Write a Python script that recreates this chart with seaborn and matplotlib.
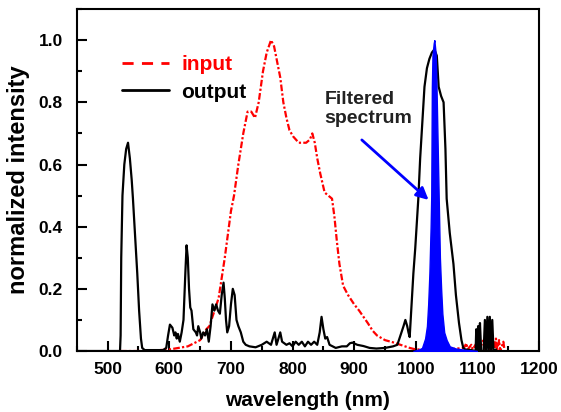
import matplotlib
matplotlib.use("Agg")
from matplotlib import pyplot as plt
from matplotlib.lines import Line2D
from matplotlib.ticker import MultipleLocator
import seaborn as sns
import pandas as pd

# input spectrum (red)
input_wl = [520, 560, 600, 630, 650, 660, 665, 670, 680, 690, 700, 705, 712, 720, 727, 733, 739,
            745, 752, 758, 765, 770, 775, 780, 785, 790, 795, 801, 810, 822, 828, 832, 836, 840,
            845, 852, 858, 864, 868, 872, 876, 882, 890, 900, 908, 915, 922, 930, 937, 950, 963,
            975, 990, 1000, 1050, 1078, 1082, 1084, 1090, 1092, 1100, 1102, 1110, 1112, 1118,
            1120, 1125, 1127, 1130, 1132, 1135, 1137, 1142, 1144]
input_val = [0.0, 0.0, 0.005, 0.015, 0.035, 0.07, 0.08, 0.11, 0.17, 0.30, 0.45, 0.50, 0.60, 0.70,
             0.77, 0.77, 0.75, 0.80, 0.90, 0.96, 1.00, 0.98, 0.93, 0.88, 0.80, 0.75, 0.71, 0.69,
             0.67, 0.67, 0.68, 0.70, 0.67, 0.62, 0.57, 0.51, 0.50, 0.49, 0.43, 0.35, 0.28, 0.21,
             0.18, 0.15, 0.13, 0.11, 0.09, 0.065, 0.05, 0.035, 0.028, 0.02, 0.01, 0.005, 0.005,
             0.01, 0.025, 0.005, 0.02, 0.005, 0.03, 0.0, 0.035, 0.0, 0.04, 0.0, 0.04, 0.0, 0.04,
             0.0, 0.035, 0.0, 0.03, 0.0]

# output spectrum (black)
output_wl = [450, 515, 520, 521, 522, 524, 527, 530, 533, 536, 539, 541, 545, 548, 551, 554, 556,
             560, 590, 595, 598, 601, 605, 608, 610, 612, 614, 617, 620, 623, 626, 628, 630, 632,
             634, 636, 639, 643, 645, 647, 650, 652, 655, 658, 661, 664, 667, 670, 673, 676, 679,
             682, 685, 688, 690, 692, 694, 697, 700, 703, 706, 709, 712, 716, 720, 724, 730, 740,
             750, 758, 765, 768, 771, 774, 777, 780, 783, 790, 795, 800, 805, 810, 815, 820, 825,
             830, 835, 840, 844, 847, 850, 853, 856, 860, 870, 880, 888, 893, 897, 905, 915, 925,
             936, 950, 963, 970, 975, 980, 983, 986, 988, 990, 993, 996, 999, 1004, 1007, 1010,
             1014, 1018, 1022, 1026, 1030, 1034, 1037, 1041, 1045, 1048, 1050, 1055, 1061, 1065,
             1070, 1074, 1077, 1080, 1090, 1097, 1098, 1100, 1101, 1103, 1104, 1106, 1110, 1112,
             1114, 1116, 1118, 1120, 1122, 1124, 1126, 1130]
output_val = [0.0, 0.0, 0.0, 0.05, 0.3, 0.5, 0.6, 0.65, 0.67, 0.62, 0.55, 0.49, 0.35, 0.25, 0.13,
              0.04, 0.01, 0.003, 0.003, 0.01, 0.05, 0.085, 0.075, 0.05, 0.06, 0.04, 0.055, 0.03,
              0.06, 0.1, 0.25, 0.34, 0.3, 0.2, 0.14, 0.13, 0.07, 0.06, 0.05, 0.08, 0.06, 0.04,
              0.06, 0.05, 0.07, 0.03, 0.08, 0.15, 0.13, 0.15, 0.13, 0.12, 0.18, 0.22, 0.17, 0.1,
              0.06, 0.08, 0.15, 0.2, 0.18, 0.1, 0.08, 0.06, 0.03, 0.02, 0.015, 0.012, 0.02, 0.03,
              0.02, 0.04, 0.06, 0.02, 0.04, 0.06, 0.03, 0.02, 0.025, 0.015, 0.03, 0.02, 0.03,
              0.015, 0.03, 0.02, 0.03, 0.02, 0.06, 0.11, 0.07, 0.04, 0.045, 0.02, 0.01, 0.015,
              0.015, 0.025, 0.027, 0.02, 0.016, 0.01, 0.008, 0.01, 0.015, 0.02, 0.05, 0.08, 0.1,
              0.08, 0.06, 0.045, 0.15, 0.25, 0.33, 0.49, 0.62, 0.72, 0.85, 0.91, 0.94, 0.96, 0.97,
              0.95, 0.85, 0.82, 0.80, 0.65, 0.49, 0.38, 0.28, 0.18, 0.09, 0.035, 0.01, 0.005,
              0.003, 0.0, 0.07, 0.0, 0.08, 0.0, 0.09, 0.0, 0.0, 0.1, 0.0, 0.11, 0.0, 0.11, 0.0,
              0.1, 0.0, 0.005]

# filtered spectrum (blue fill)
filtered_wl = [996, 1005, 1010, 1015, 1018, 1020, 1022, 1024, 1025, 1026, 1027, 1029, 1030, 1032,
               1033, 1035, 1037, 1039, 1041, 1043, 1046, 1050, 1055, 1065, 1080, 1099]
filtered_val = [0.0, 0.005, 0.01, 0.04, 0.08, 0.15, 0.25, 0.4, 0.5, 0.85, 0.95, 0.99, 1.0, 0.96,
                0.9, 0.7, 0.5, 0.3, 0.2, 0.12, 0.06, 0.035, 0.015, 0.008, 0.004, 0.0]

df_in = pd.DataFrame({"wl": input_wl, "val": input_val})
df_out = pd.DataFrame({"wl": output_wl, "val": output_val})

sns.set_style("ticks")
plt.rcParams['font.family'] = ['Liberation Sans', 'DejaVu Sans']
plt.rcParams['font.weight'] = 'bold'
plt.rcParams['axes.labelweight'] = 'bold'
for key in ['text.color', 'axes.labelcolor', 'xtick.color', 'ytick.color', 'axes.edgecolor']:
    plt.rcParams[key] = 'black'

fig = plt.figure(figsize=(5.61, 4.12), dpi=100)
ax = fig.add_axes([0.137, 0.148, 0.824, 0.830])

sns.lineplot(x="wl", y="val", data=df_in, ax=ax, color="red", lw=1.6, sort=False,
             estimator=None, linestyle=(0, (3, 1, 1, 1)))
sns.lineplot(x="wl", y="val", data=df_out, ax=ax, color="black", lw=1.6, sort=False,
             estimator=None)
ax.fill_between(filtered_wl, filtered_val, color="blue", lw=1, edgecolor="blue", zorder=3)

ax.set_xlim(450, 1200)
ax.set_ylim(0, 1.1)
ax.xaxis.set_major_locator(MultipleLocator(100))
ax.xaxis.set_minor_locator(MultipleLocator(50))
ax.yaxis.set_major_locator(MultipleLocator(0.2))
ax.yaxis.set_minor_locator(MultipleLocator(0.1))
ax.set_xticks([500, 600, 700, 800, 900, 1000, 1100, 1200])
ax.tick_params(which='both', direction='in', width=1.5, labelsize=12.5)
ax.tick_params(which='major', length=7)
ax.tick_params(which='minor', length=3.5)
ax.tick_params(axis='y', which='major', pad=10)
ax.tick_params(axis='x', which='major', pad=8)
for s in ax.spines.values():
    s.set_linewidth(1.5)

ax.set_xlabel("wavelength (nm)", fontsize=15, labelpad=10)
ax.set_ylabel("normalized intensity", fontsize=17, labelpad=6)

handles = [Line2D([], [], color="red", lw=2, linestyle=(0, (4, 3))),
           Line2D([], [], color="black", lw=2)]
leg = ax.legend(handles, ["input", "output"], loc="upper left", bbox_to_anchor=(0.075, 0.895),
                frameon=False, fontsize=15, handlelength=2.25, handletextpad=0.6,
                borderpad=0, labelspacing=0.4)
leg.get_texts()[0].set_color("red")

ax.text(852, 0.835, "Filtered\nspectrum", fontsize=14, va="top", ha="left", linespacing=1.15,
        color="#222222")
ax.annotate("", xy=(1024, 0.48), xytext=(909, 0.685),
            arrowprops=dict(arrowstyle="-|>", color="blue", lw=2, mutation_scale=18))

plt.savefig("out.png", dpi=100)
plt.close()
